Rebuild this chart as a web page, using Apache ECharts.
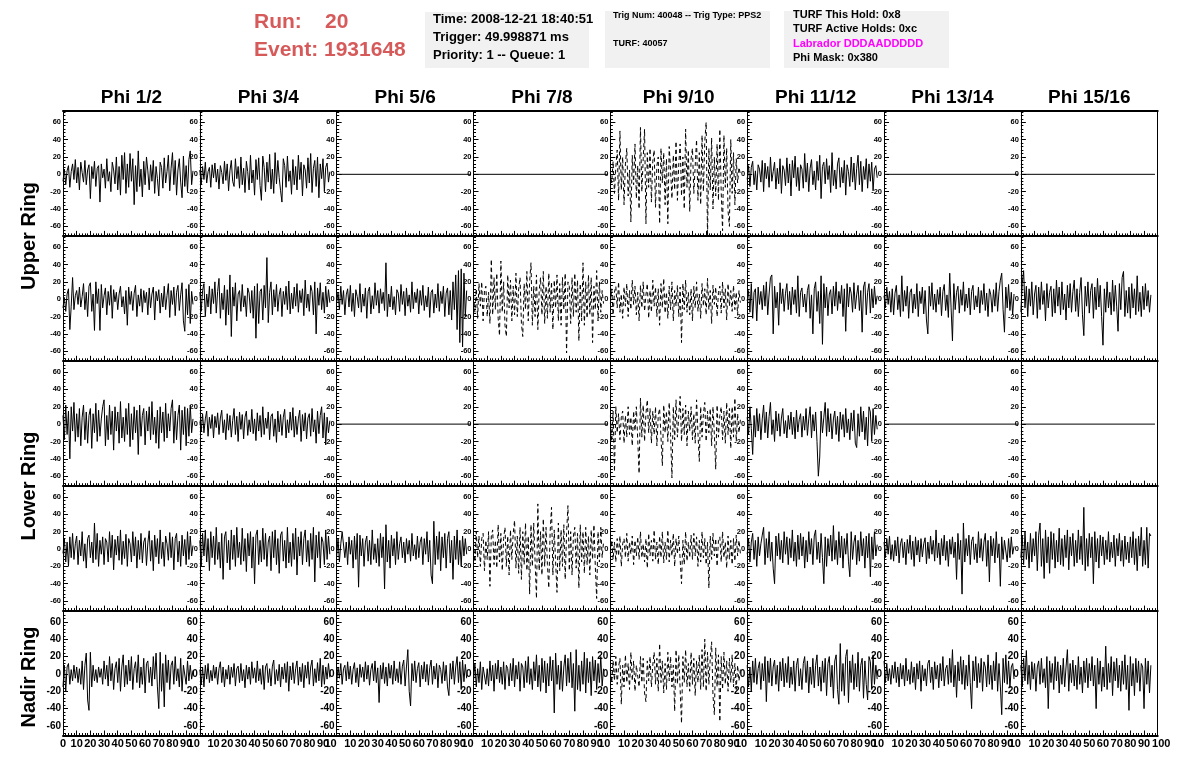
<!DOCTYPE html>
<html>
<head>
<meta charset="utf-8">
<script src="https://cdn.jsdelivr.net/npm/echarts@6/dist/echarts.min.js"></script>
<style>html,body{margin:0;padding:0;background:#fff;}#c{width:1196px;height:772px;}</style>
</head>
<body>
<div id="c"></div>
<script>
const COLUMNS = ['Phi 1/2','Phi 3/4','Phi 5/6','Phi 7/8','Phi 9/10','Phi 11/12','Phi 13/14','Phi 15/16'];
const ROW_NAMES = ['Upper Ring','Lower Ring','Nadir Ring'];
const Y_TICKS = [-60,-40,-20,0,20,40,60];
const Y_MINOR = [-68,-64,-56,-52,-48,-44,-36,-32,-28,-24,-16,-12,-8,-4,4,8,12,16,24,28,32,36,44,48,52,56,64,68,72];
const X_TICKS = [0,10,20,30,40,50,60,70,80,90,100];
const X_END_LABELS = ['10','10','10','10','10','10','10','100'];
const RUN_LINES = ['Run:', '20', 'Event: 1931648'];
const BOX1 = ['Time: 2008-12-21 18:40:51','Trigger: 49.998871 ms','Priority: 1 -- Queue: 1'];
const BOX2 = ['Trig Num: 40048 -- Trig Type: PPS2','TURF: 40057'];
const BOX3 = ['TURF This Hold: 0x8','TURF Active Holds: 0xc','Labrador DDDAADDDDD','Phi Mask: 0x380'];

// flat (empty) channel
const FLAT = [0, 0];
const FLAT_X = [0, 98];

// Upper ring, first antenna row
const u1_p12 = [-8,6,-12,4,10,-15,3,12,-6,17, -10,8,-18,14,2,-9,16,-12,5,11, -28,9,-5,15,-14,7,10,-32,12,-4, 6,-16,18,-8,3,-20,14,5,-11,20, -18,9,-24,22,-6,25,-22,12,-15,24, -8,18,-35,10,-20,27,-14,6,-26,15, -12,20,4,-18,11,-8,16,-22,9,-5, -25,14,8,-16,19,-10,3,22,-19,7, 25,-12,16,-24,5,18,-9,-27,21,-14, 10,-20,17,27,-12,4];
const u1_p34 = [5,-12,9,-6,14,-10,3,8,-15,11, -4,13,-9,6,-17,10,2,-11,15,-7, 12,-19,4,16,-8,-14,18,-5,9,-16, 20,-12,7,-21,15,3,-18,22,-10,5, -24,17,-6,19,-13,-30,21,8,-20,14, -9,23,-17,6,-22,25,-11,16,-4,-19, -32,18,10,-15,21,-8,4,-23,17,-12, 9,-18,22,-6,14,-25,11,5,-16,19, -10,24,-21,7,16,-14,20,-27,12,-5, 18,-20,8,13,-9,3];
const u1_p910 = [2,-10,15,-22,8,28,-30,50,-18,20, -35,12,30,-25,5,-55,22,-12,35,-28, 10,-40,54,-20,18,52,-57,25,-15,30, -32,15,28,-38,10,20,-57,30,-10,25, -35,18,-57,32,5,-28,22,-18,38,-30, 12,35,-25,20,-40,52,-15,28,-43,18, 30,-22,10,40,-30,25,-35,45,-20,38, 60,-72,30,-18,42,-40,20,-25,35,-30, 52,-20,-65,45,-15,30,-42,-60,40,-22, 25,-35,18,-10,8,0];
const u1_p1112 = [-6,10,-14,8,15,-12,4,-18,11,6, -9,16,-20,13,-5,9,-15,20,-8,3, 14,-17,7,-11,18,-22,10,5,-13,19, -10,12,-25,16,-4,21,-14,8,-19,11, 6,-16,24,-9,13,-20,7,17,-12,4, -18,15,-7,22,-28,9,14,-11,18,-6, 10,-21,25,-13,5,-17,12,19,-15,8, -10,16,-24,11,3,-14,20,-9,13,-18, 7,22,-12,15,-20,9,-6,18,-16,12, -8,14,-19,6,10,-4];

// Upper ring, second antenna row
const u2_p12 = [-10,2,-14,6,12,-35,-8,25,-12,4, 10,-6,14,-9,3,18,-12,8,-20,15, 19,-14,6,-36,20,-5,12,-36,17,-10, 4,13,-18,9,-7,16,-22,11,-3,8, -12,6,15,-9,3,-17,10,-30,14,-6, 9,-13,7,16,-20,5,-8,12,-15,10, -4,8,-18,13,-10,6,14,-24,9,-2, 11,-16,7,-9,15,-12,4,18,-21,10, -6,14,-19,8,16,-13,5,19,-25,-37, 12,-18,17,-28,9,-6];
const u2_p34 = [8,-14,10,18,-20,6,-9,15,-17,12, -5,20,-16,9,24,-22,7,-12,16,-30, 11,-18,28,-43,14,-8,19,-25,6,10, -14,17,-9,4,-20,13,7,-16,10,-22, 15,-45,18,-28,9,12,-24,16,-10,48, -27,8,20,-18,11,-9,17,-14,5,13, -20,9,-6,15,-12,21,-17,7,-11,14, -8,18,-15,10,-4,12,-19,22,-10,6, -14,16,9,-18,20,-40,13,-7,19,-12, 8,-16,15,-9,11,-4];
const u2_p56 = [-4,8,-12,15,-6,10,-18,5,12,-9, 16,-14,7,-20,11,3,-10,18,-15,6, -8,13,-22,9,14,-17,4,-11,19,-7, 10,-16,12,-5,8,-13,42,-20,6,-9, 15,-12,3,-18,11,7,-14,17,-6,9, -19,13,-8,5,-15,20,-11,8,-4,12, -17,10,-7,16,-13,4,-9,14,-21,8, 11,-16,6,-10,18,-14,9,-5,15,-20, 7,13,-18,10,-24,20,-12,28,-35,33, -50,35,-55,30,-20,10];
const u2_p78 = [5,-15,12,-22,18,-8,20,-25,10,15, -20,8,-28,46,-18,25,-12,30,-22,-42, 44,-15,20,-30,-43,28,-10,22,-25,15, -18,30,-20,12,25,-28,-43,18,-12,32, -25,20,42,-30,15,-20,28,-35,10,25, -18,32,-28,15,-22,30,-15,20,-35,22, -10,28,-25,18,-30,25,-12,30,-62,20, 15,-28,25,-20,30,-15,22,-48,18,-25, 42,-30,20,-22,28,-18,25,-50,15,-12, 33,-25,20,-15,10,-5];
const u2_p910 = [-5,12,-18,8,15,-10,20,-15,6,-22, 14,-8,18,-20,10,-12,22,-6,15,-18, 8,-25,16,-10,20,-14,5,18,-22,10, -15,22,-8,14,-20,12,-30,18,-10,24, -16,8,-22,15,-12,20,-25,10,-8,16, -20,14,-50,18,-12,22,-15,8,-18,12, -25,15,-10,20,-14,6,-22,18,-8,12, -18,24,-12,10,-28,16,-6,14,-20,8, 15,-16,20,-10,12,-24,18,-8,10,-14, 16,-12,8,-18,10,-4];
const u2_p1112 = [-2,10,-15,18,-22,8,12,-25,14,-6, 9,-12,16,-8,20,-18,6,25,28,-40, 15,-10,8,-30,19,-5,12,-14,7,18, -12,9,-18,14,-6,11,-16,27,-20,8, 13,-9,6,-15,10,17,-22,5,-40,12, 20,-14,9,-28,27,-52,18,-10,14,-19, 6,11,-17,15,-8,20,-13,9,-5,16, -20,12,-37,18,-9,14,7,-15,19,-11, 5,16,-13,10,-38,14,20,-18,8,18, -16,12,-10,15,-6,4];
const u2_p1314 = [4,-10,14,-6,9,-15,12,-18,7,16, -12,5,-20,27,-14,10,-8,15,-22,8, 12,-16,6,-11,18,-20,9,-5,14,-17, 10,-24,-40,15,-8,19,-12,6,-15,11, -6,14,-19,9,17,-13,5,-21,30,-10, -48,18,-12,8,15,-16,11,-7,20,-14, 6,-10,13,-18,9,16,-12,4,-9,14, -16,10,-6,18,-13,7,-20,12,5,-15, 11,-8,19,-14,9,22,30,-12,-38,14, -10,17,-13,8,-18,6];
const u2_p1516 = [-15,18,33,-10,15,-20,12,-8,20,-18, 6,16,-22,14,-12,20,-6,10,-25,18, -10,8,15,-20,12,-16,22,-8,14,-18, 20,-12,6,-24,16,-10,18,-15,9,22, -14,12,-20,8,25,-18,-42,15,-8,20, -16,10,18,-22,14,-12,24,-9,16,-20, -53,12,-15,20,-10,8,-18,22,-14,16, -8,-37,18,-12,25,32,-20,10,-16,14, -22,18,-10,12,-18,27,-14,8,-20,15, -12,18,-8,10,-15,5];

// Lower ring, first antenna row
const l1_p12 = [10,-18,22,-12,15,-40,20,-8,25,-20, 12,-15,18,-25,8,22,-18,14,-22,10, 18,-28,12,-10,24,-20,16,-14,6,20, 28,-25,10,-18,22,-12,15,-30,20,-8, 14,-22,26,-16,8,-20,18,-12,24,-26, 12,-18,20,-10,16,-35,22,-14,10,18, -24,15,-8,20,-18,26,-12,8,-22,16, -28,20,-10,14,-20,24,-16,12,-8,18, 28,-22,15,-18,10,22,-30,16,-12,20, -25,18,-14,22,-10,6];
const l1_p34 = [3,-8,12,-10,6,15,-14,8,-5,11, -16,9,-4,13,-12,7,16,-10,5,-18, 12,-7,10,-15,4,18,-12,9,-20,14, -6,11,-17,8,15,-13,5,-9,17,-11, 6,-19,13,-8,10,-15,20,-12,7,-5, 14,-18,9,12,-14,6,-21,15,-9,11, -13,8,17,-16,5,-10,14,-7,19,-15, 9,-12,6,16,-20,11,-8,13,-17,7, 12,-14,18,-9,5,-22,15,-11,10,20, -16,13,-24,8,-10,4];
const l1_p910 = [10,-20,15,-55,20,-10,12,-18,8,15, -22,10,-15,20,-12,8,-25,15,-8,20, -18,-57,30,-15,22,-20,12,28,-10,18, -22,15,-12,20,-25,10,18,-15,-48,22, -10,15,-20,25,-12,-62,20,-18,28,-15, 10,32,-20,18,-12,22,-25,15,-8,20, -18,12,-22,28,-10,-43,20,-15,12,25, -20,15,-10,18,-25,20,-12,-52,22,-15, 10,20,-18,15,-22,25,-12,18,-28,20, -15,30,-20,12,-10,5];
const l1_p1112 = [8,-12,20,-5,-35,10,-15,18,-8,12, -18,6,22,-10,14,-16,9,25,-12,5, -20,15,-8,12,-14,7,18,-11,4,-16, 10,-6,14,-12,8,-17,16,-9,5,12, -15,9,-7,18,-13,6,20,-16,11,-8, 14,-20,-60,-38,15,-10,8,25,-14,18, -9,12,-17,6,15,-12,9,-20,14,-6, 11,-15,18,-10,6,-18,13,-8,16,-22, -27,12,-14,20,-9,15,-18,8,-25,20, 14,-20,18,-12,10,-6];

// Lower ring, second antenna row
const l2_p12 = [-5,12,-15,8,-20,14,-10,18,-12,6, 15,-18,10,-8,20,-14,6,-22,12,16, -10,8,-16,30,-12,18,-20,10,-6,14, -18,12,8,-15,20,-10,16,-24,11,-7, 15,-13,22,-18,9,-11,17,-20,12,6, -15,20,-8,14,-22,10,-12,18,-16,8, 13,-19,7,21,-14,10,-25,16,-9,12, -17,22,-11,8,-20,15,6,-13,19,-10, 14,-24,12,18,-15,9,-20,16,-8,11, -18,20,-12,15,-8,4];
const l2_p34 = [10,-20,18,-8,22,-15,12,-25,20,-10, 15,-18,25,-12,8,-22,18,-35,14,20, -16,10,-24,22,-12,16,-20,25,-10,8, -18,24,-14,12,-26,18,-8,20,-22,14, -40,16,22,-18,10,-15,24,-12,18,-20, 8,15,-25,20,-10,22,-18,12,-28,16, 20,-14,10,-22,25,-16,8,-20,18,-12, 24,-30,14,-8,20,-18,12,22,-15,10, -20,18,-12,25,-38,16,-10,20,-22,14, 8,-18,22,-12,15,-6];
const l2_p56 = [-8,12,-15,6,20,20,-10,8,-18,14, -6,10,-22,15,-12,18,-44,16,-8,12, -20,8,15,-14,10,-18,22,-12,6,-16, 12,-20,18,-10,14,-46,28,-15,10,-22, 16,-8,12,-18,20,-12,6,14,-10,8, -16,12,-6,10,-14,18,-8,5,-12,15, -10,8,14,-18,12,-6,20,-15,10,-30, -40,32,-18,15,-12,20,-25,14,-10,18, -22,12,20,-16,10,-35,15,-12,22,-18, 10,-20,15,-8,12,-6];
const l2_p78 = [8,-15,20,-10,15,-20,12,18,-25,10, -12,20,-43,15,22,-18,10,-22,28,-15, 18,-25,12,25,-20,15,-30,22,-12,18, 33,-22,15,-28,25,-35,20,-18,30,-25, 15,-52,28,-20,30,-15,-57,52,-25,20, -30,35,-20,25,-18,-45,20,48,-30,22, -15,-50,30,-25,22,-20,28,-35,18,50, -25,20,-30,15,25,-22,18,-45,28,-15, 20,-28,25,-18,15,-30,22,-12,28,-20, -57,20,-15,25,-10,8];
const l2_p910 = [-5,10,-12,8,-15,12,-8,15,-20,6, 12,-10,18,-14,8,-6,15,-18,10,-8, 14,-12,20,-10,6,-15,12,-22,18,-8, 10,-14,22,-12,8,-18,15,-10,20,-16, 8,-12,22,-15,10,-8,18,-20,12,-6, 15,-12,-40,10,-18,20,-14,8,-10,16, -12,18,-8,14,-20,10,-15,20,-10,12, -18,8,-45,15,-12,18,-8,12,-20,10, 14,-15,20,-10,8,-22,15,-12,10,-18, 12,-14,16,-8,10,-5];
const l2_p1112 = [-6,12,-15,8,18,-12,10,-20,14,-8, 6,16,25,-18,12,-10,20,-14,8,-22, -40,15,-8,18,-12,10,-16,20,-6,14, -18,12,-10,22,-14,8,-20,16,-12,18, -8,14,-22,10,-15,20,-6,12,-18,15, 22,-12,8,-16,18,-10,-40,14,-20,12, -8,16,-14,27,-12,10,-18,20,-10,15, -22,12,-6,18,-14,-32,20,-12,8,16, -18,10,-14,20,-8,12,-22,15,-10,18, -32,14,-12,20,-8,5];
const l2_p1314 = [8,-10,12,-6,15,-12,5,-14,10,-8, 14,-16,6,12,-10,8,-18,11,-5,16, -12,9,-20,14,-7,10,-15,12,-9,6, 13,-17,8,-11,15,-6,10,-14,22,-10, 7,-18,12,-8,16,-13,9,-20,11,-6, 14,-10,8,-35,18,-12,10,-52,30,-15, 12,-8,16,-18,9,14,-12,6,-16,20, -10,12,-14,8,18,-20,10,-38,15,-8, 12,-16,20,-10,6,-43,14,-12,10,8, -15,12,-10,14,-6,3];
const l2_p1516 = [-10,15,-18,20,-12,8,-22,18,-15,12, -8,20,-25,16,30,-20,12,-34,22,-16, 14,-28,20,-12,18,-22,10,-15,24,-18, 12,-20,16,-10,22,-24,14,-8,18,-20, 10,-16,22,-12,15,-18,48,-25,12,-20, 18,-10,14,-40,20,-15,12,-22,16,-8, 14,-18,10,-12,20,-15,8,-10,16,-20, 12,-8,18,-14,10,-20,15,-12,8,-16, 14,-10,20,-18,12,-25,15,-8,25,-20, 10,-18,25,-22,18,15];

// Nadir ring
const n_p12 = [-15,10,-20,8,12,-12,5,-8,10,-5, 8,-10,6,-12,15,-18,10,24,-30,-42, 25,-15,10,-8,5,-10,8,-4,6,-12, 15,-6,10,-14,20,-8,12,-18,6,14, -10,18,-20,8,22,-15,10,-12,16,-8, 20,-18,6,14,-10,22,-16,8,-12,18, -22,12,15,-10,8,-14,20,-6,24,-15, -40,25,-20,12,-38,22,-10,16,-18,10, 15,-12,20,-8,6,-15,18,-20,10,8, -12,15,-8,10,-6,4];
const n_p34 = [5,-12,8,-15,10,-6,12,-10,4,-8, 10,-5,8,-12,6,14,-10,8,-15,5, -6,10,-12,8,-4,12,-14,6,9,-10, 12,-8,5,-16,10,-6,8,-12,14,-5, 7,-10,15,-8,6,-12,10,-18,8,12, -10,6,-14,9,16,-12,5,-8,11,-15, 8,-6,12,-10,14,-20,9,-7,13,-11, 6,15,-13,8,-9,12,-16,10,-5,14, -12,8,16,-14,6,-10,13,-8,18,-15, 10,-12,8,-6,12,-4];
const n_p56 = [-10,8,-5,12,-12,6,10,-8,14,-6, 9,-12,5,13,-10,7,-15,11,-4,8, -9,14,-6,10,-13,5,12,-8,15,-10, 7,-33,10,-6,13,-11,8,-14,12,-5, 10,-12,15,-8,6,-10,14,-12,9,16, -14,8,28,-20,-37,12,-8,15,-10,6, 13,-15,10,-6,14,-9,11,-13,7,16, -12,9,-6,12,-16,10,5,-11,14,-8, 10,-15,-25,12,-6,15,-12,8,20,-10, 14,-18,16,-9,11,-5];
const n_p78 = [-8,12,-15,6,-10,14,-18,8,10,-12, 6,-14,15,-8,10,-20,12,-6,16,-10, 8,-12,14,-18,10,6,-14,12,-8,18, -15,10,-6,14,-20,12,8,-16,15,-10, 20,-12,6,-18,14,-8,22,-15,10,-20, 18,-10,15,-22,12,-14,20,-8,16,-45, 24,-12,10,-18,15,-20,8,22,-14,18, -10,25,-16,12,-43,28,-18,10,-20,15, -12,25,-22,18,-10,14,-25,20,-8,16, -18,12,-10,20,-14,6];
const n_p910 = [5,-10,15,-8,20,-12,8,18,-35,10, -15,22,-10,12,-18,25,-8,15,-20,10, 12,-15,20,-10,18,-22,-32,15,-8,20, -15,10,25,-12,18,-20,35,-10,15,-22, 12,-18,25,-8,20,-15,10,-43,28,-12, 22,-18,-57,20,-10,28,-15,12,-20,25, -12,18,-25,15,-10,22,-18,28,-15,40, -20,25,-12,18,37,-25,-47,30,-15,22, -55,20,-18,25,-12,15,-20,18,-10,22, -15,12,-18,10,-8,5];
const n_p1112 = [10,-15,8,-20,15,-10,18,-12,6,14, -18,12,-8,20,-32,15,-10,18,-14,8, 16,-12,10,-20,14,-8,18,-15,12,-10, 20,-16,8,-12,15,-20,10,18,-14,6, -18,12,20,-10,15,-22,8,-12,18,-16, 10,22,-14,8,-20,15,-10,18,-25,12, 20,-15,10,-28,15,22,-18,-35,35,-20, 12,-25,20,28,-33,15,-10,22,-18,12, -15,25,-20,10,18,-28,15,-12,-30,20, 14,-18,22,-12,10,-6];
const n_p1314 = [15,-10,12,-8,6,-12,10,-5,14,-10, 8,-15,12,-6,10,-14,18,-8,5,-12, 14,-10,8,-18,12,-6,15,-20,10,-8, 6,-14,12,16,-10,8,-18,14,-6,10, -16,12,-8,20,-14,6,10,-12,18,-10, 28,-15,10,-27,14,-8,20,-12,16,-18, 10,-14,22,-10,-40,15,-8,20,-16,12, -10,18,-20,14,8,-15,22,-12,10,-18, 15,-8,25,-20,12,-14,-47,18,-10,22, -12,15,-16,8,12,-6];
const n_p1516 = [10,-15,18,-8,27,-12,10,-18,14,-6, 12,-20,8,15,-12,18,-10,6,-16,20, -40,15,-10,12,-18,20,-8,14,-22,10, -12,18,-15,8,28,-20,12,-10,16,-14, 10,-18,20,-12,8,-22,15,-10,18,-16, 12,-8,20,-14,10,-40,18,-12,15,-20, 8,-15,32,-18,12,-10,20,-25,14,-8, 18,-16,10,-20,15,-12,22,-18,10,-42, 20,-14,12,-25,18,-10,15,-20,12,8, -40,18,-12,15,-22,10];

const PANELS = [
  [u1_p12, u1_p34, FLAT, FLAT, u1_p910, u1_p1112, FLAT, FLAT],
  [u2_p12, u2_p34, u2_p56, u2_p78, u2_p910, u2_p1112, u2_p1314, u2_p1516],
  [l1_p12, l1_p34, FLAT, FLAT, l1_p910, l1_p1112, FLAT, FLAT],
  [l2_p12, l2_p34, l2_p56, l2_p78, l2_p910, l2_p1112, l2_p1314, l2_p1516],
  [n_p12, n_p34, n_p56, n_p78, n_p910, n_p1112, n_p1314, n_p1516]
];
const DASHED = [
  [0,0,0,0,1,0,0,0],
  [0,0,0,1,1,0,0,0],
  [0,0,0,0,1,0,0,0],
  [0,0,0,1,1,0,0,0],
  [0,0,0,0,1,0,0,0]
];

// ---------- layout ----------
const FONT = '"Liberation Sans", Arial, Helvetica, sans-serif';
const LEFT = 63, TOP = 111, CW = 136.84, RH = 124.9;
const Y_MIN = -71, Y_MAX = 73;
const NR = 5, NC = 8;
const XMAX = X_TICKS[X_TICKS.length - 1];

const grids = [], xAxes = [], yAxes = [], series = [];
for (let r = 0; r < NR; r++) {
  for (let c = 0; c < NC; c++) {
    const g = grids.length;
    grids.push({left: LEFT + c * CW, top: TOP + r * RH, width: CW, height: RH, containLabel: false});
    const last = r === NR - 1;
    // bottom x axis with ticks and labels (all but the end label)
    const xi = xAxes.length;
    const labelVals = X_TICKS.filter(v => v !== XMAX && (c === 0 || v !== 0));
    xAxes.push({
      gridIndex: g, type: 'value', min: X_TICKS[0], max: XMAX, interval: 10, position: 'bottom',
      axisLine: {show: true, onZero: false, lineStyle: {color: '#000', width: 2}},
      axisTick: {show: true, inside: true, length: 5, lineStyle: {color: '#000', width: 1}},
      minorTick: {show: true, splitNumber: 5, length: 2.5, lineStyle: {color: '#000', width: 1}},
      splitLine: {show: false}, minorSplitLine: {show: false},
      axisLabel: {
        show: last, customValues: labelVals, margin: 3, color: '#000', fontSize: 11, fontWeight: 'bold', fontFamily: FONT
      }
    });
    if (last) {
      // end label: clipped "10" at inner pad edges, full "100" at the far right
      const isLastCol = c === NC - 1;
      const endAlign = isLastCol ? 'center' : 'right';
      xAxes.push({
        gridIndex: g, type: 'value', min: X_TICKS[0], max: XMAX, position: 'bottom',
        axisLine: {show: false}, axisTick: {show: false}, splitLine: {show: false},
        axisLabel: {
          show: true, customValues: [XMAX], align: endAlign, alignMaxLabel: endAlign, margin: 3, color: '#000',
          fontSize: 11, fontWeight: 'bold', fontFamily: FONT,
          formatter: () => isLastCol ? '{e|' + X_END_LABELS[c] + '}' : X_END_LABELS[c],
          rich: {e: {fontSize: 11, fontWeight: 'bold', fontFamily: FONT, color: '#000', padding: [0, 0, 0, 7]}}
        }
      });
    }
    if (r === 0) {
      xAxes.push({
        gridIndex: g, type: 'value', min: 0, max: XMAX, position: 'top',
        axisLine: {show: true, onZero: false, lineStyle: {color: '#000', width: 2}},
        axisTick: {show: false}, axisLabel: {show: false}, splitLine: {show: false}
      });
    }
    // left y axis (major)
    const yi = yAxes.length;
    const yFont = last ? 10 : 7.5;
    yAxes.push({
      gridIndex: g, type: 'value', min: Y_MIN, max: Y_MAX, position: 'left',
      axisLine: {show: true, onZero: false, lineStyle: {color: '#000', width: 1}},
      axisTick: {show: true, inside: true, length: 5, customValues: Y_TICKS, lineStyle: {color: '#000', width: 1}},
      axisLabel: {show: true, customValues: Y_TICKS, margin: 2, color: '#000', fontSize: yFont, fontWeight: 'bold', fontFamily: FONT},
      splitLine: {show: false}
    });
    // left y axis (minor ticks)
    yAxes.push({
      gridIndex: g, type: 'value', min: Y_MIN, max: Y_MAX, position: 'left',
      axisLine: {show: false},
      axisTick: {show: true, inside: true, length: 2.5, customValues: Y_MINOR, lineStyle: {color: '#000', width: 1}},
      axisLabel: {show: false}, splitLine: {show: false}
    });
    if (c === NC - 1) {
      yAxes.push({
        gridIndex: g, type: 'value', min: Y_MIN, max: Y_MAX, position: 'right',
        axisLine: {show: true, onZero: false, lineStyle: {color: '#000', width: 1}},
        axisTick: {show: false}, axisLabel: {show: false}, splitLine: {show: false}
      });
    }
    const wave = PANELS[r][c];
    const data = wave === FLAT
      ? FLAT.map((v, i) => [FLAT_X[i], v])
      : wave.map((v, i) => [i, v]);
    series.push({
      type: 'line', xAxisIndex: xi, yAxisIndex: yi, data: data,
      symbol: 'none', showSymbol: false, clip: true, silent: true, animation: false,
      lineStyle: {color: '#000', width: 1, type: DASHED[r][c] ? [4, 3] : 'solid'}
    });
  }
}

// ---------- texts ----------
const graphics = [];
function txt(x, y, text, size, color, align, rot) {
  graphics.push({type: 'text', x: x, y: y, rotation: rot || 0, silent: true, z: 100,
    style: {text: text, fontSize: size, fontWeight: 'bold', fontFamily: FONT, fill: color, align: align || 'left', verticalAlign: 'middle'}});
}
function box(x, y, w, h) {
  graphics.push({type: 'rect', silent: true, z: 90, shape: {x: x, y: y, width: w, height: h}, style: {fill: '#f1f1f1'}});
}
const RED = '#d65a5a';
txt(254, 22, RUN_LINES[0], 21, RED);
txt(325, 22, RUN_LINES[1], 21, RED);
txt(254, 50, RUN_LINES[2], 21, RED);

box(425, 12, 164, 56);
BOX1.forEach((t, i) => txt(433, 19 + i * 18, t, 13, '#000'));
box(605, 11, 165, 57);
txt(613, 16, BOX2[0], 9, '#000');
txt(613, 44, BOX2[1], 9, '#000');
box(784, 11, 165, 57);
BOX3.forEach((t, i) => txt(793, 15 + i * 14.4, t, 11, i === 2 ? '#ff00ff' : '#000'));

COLUMNS.forEach((t, c) => txt(LEFT + (c + 0.5) * CW, 98, t, 19, '#000', 'center'));
txt(29, 236, ROW_NAMES[0], 20, '#000', 'center', Math.PI / 2);
txt(29, 486, ROW_NAMES[1], 20, '#000', 'center', Math.PI / 2);
txt(29, 677, ROW_NAMES[2], 20, '#000', 'center', Math.PI / 2);

const chart = echarts.init(document.getElementById('c'), null, {renderer: 'canvas'});
chart.setOption({
  backgroundColor: '#fff',
  animation: false,
  grid: grids, xAxis: xAxes, yAxis: yAxes, series: series,
  graphic: graphics
});
</script>
</body>
</html>
